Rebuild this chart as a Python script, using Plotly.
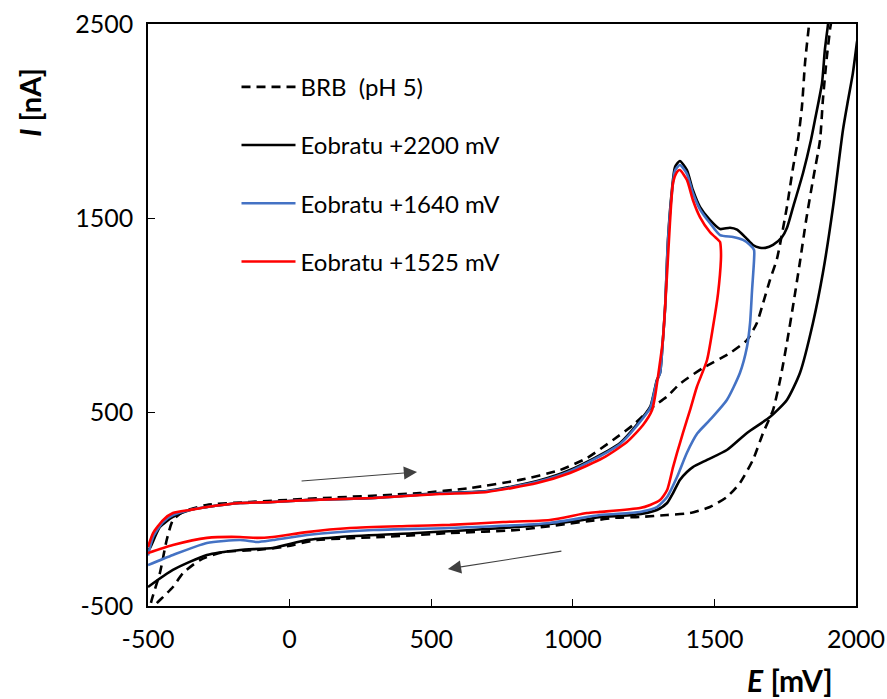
import plotly.graph_objects as go

# ---- data (E in mV, I in nA) ----
brb_fwd_E = [-500, -487, -458, -434, -412, -376, -293, -140, 61, 460, 637, 814, 955, 1050, 1142, 1213, 1273, 1333, 1378, 1460, 1555, 1615, 1650, 1672, 1696, 1721, 1756, 1778, 1795, 1809, 1820, 1834, 1845]
brb_fwd_I = [-560, -469, -330, -160, -57, -15, 21, 36, 52, 82, 108, 150, 201, 263, 356, 433, 515, 580, 645, 727, 804, 871, 959, 1062, 1180, 1290, 1557, 1763, 1902, 2072, 2299, 2495, 2650]
brb_rev_E = [1920, 1908, 1897, 1883, 1873, 1848, 1824, 1802, 1781, 1756, 1732, 1707, 1672, 1636, 1590, 1544, 1484, 1414, 1333, 1237, 1142, 1085, 803, 566, 330, 97, -23, -115, -235, -316, -376, -412, -447, -475, -495]
brb_rev_I = [2650, 2469, 2330, 2108, 1902, 1696, 1490, 1273, 1077, 856, 665, 510, 392, 253, 134, 62, 10, -21, -31, -41, -46, -57, -108, -124, -144, -160, -196, -211, -222, -263, -330, -402, -454, -495, -540]

k2200_fwd_E = [-500, -493, -458, -412, -352, -292, -175, -59, 61, 295, 531, 697, 874, 990, 1167, 1273, 1283, 1297, 1308, 1318, 1326, 1336, 1350, 1361, 1378, 1403, 1424, 1449, 1484, 1520, 1555, 1580, 1610, 1636, 1660, 1680, 1707, 1739, 1756, 1778, 1813, 1841, 1855, 1880, 1890, 1901, 1915]
k2200_fwd_I = [-211, -201, -93, -41, -5, 10, 31, 36, 46, 57, 82, 93, 144, 201, 340, 526, 577, 665, 701, 871, 1041, 1387, 1644, 1763, 1794, 1747, 1644, 1557, 1490, 1443, 1450, 1440, 1400, 1361, 1347, 1346, 1361, 1402, 1448, 1557, 1732, 1902, 2005, 2196, 2366, 2495, 2650]
k2200_rev_E = [2030, 2003, 1989, 1972, 1954, 1919, 1883, 1848, 1802, 1756, 1696, 1615, 1544, 1474, 1424, 1403, 1378, 1354, 1333, 1297, 1213, 1096, 1036, 803, 450, 178, 61, -59, -175, -292, -412, -500]
k2200_rev_I = [2700, 2402, 2247, 2108, 1954, 1557, 1216, 959, 701, 562, 474, 392, 304, 253, 216, 191, 150, 82, 31, -5, -31, -41, -57, -93, -124, -144, -160, -201, -211, -237, -314, -402]

b1640_fwd_E = [-500, -482, -447, -412, -352, -292, -175, -59, 61, 295, 531, 697, 874, 990, 1167, 1273, 1283, 1297, 1308, 1318, 1326, 1336, 1350, 1361, 1378, 1403, 1424, 1449, 1484, 1520, 1566, 1601, 1626, 1640]
b1640_fwd_I = [-240, -144, -67, -31, -5, 10, 31, 36, 46, 57, 80, 91, 140, 195, 335, 520, 572, 660, 700, 868, 1035, 1380, 1630, 1745, 1773, 1728, 1629, 1545, 1474, 1412, 1402, 1387, 1361, 1335]
b1640_rev_E = [1640, 1633, 1626, 1615, 1590, 1544, 1484, 1440, 1403, 1368, 1333, 1297, 1237, 1096, 919, 566, 295, 61, -59, -115, -175, -292, -412, -500]
b1640_rev_I = [1284, 1129, 959, 835, 701, 562, 459, 390, 290, 165, 62, 10, -15, -31, -72, -98, -108, -134, -160, -170, -160, -175, -237, -289]

r1525_fwd_E = [-500, -482, -447, -412, -352, -292, -175, -59, 61, 295, 531, 697, 874, 990, 1107, 1191, 1248, 1280, 1290, 1304, 1318, 1333, 1343, 1354, 1368, 1378, 1403, 1424, 1449, 1484, 1513, 1520]
r1525_fwd_I = [-196, -124, -57, -21, -5, 10, 31, 36, 46, 57, 77, 88, 134, 186, 263, 345, 433, 510, 577, 716, 871, 1216, 1474, 1680, 1737, 1747, 1696, 1593, 1505, 1428, 1387, 1376]
r1525_rev_E = [1523, 1523, 1513, 1495, 1474, 1438, 1414, 1389, 1368, 1354, 1333, 1308, 1273, 1237, 1096, 1050, 919, 754, 566, 415, 213, 61, -59, -115, -175, -292, -412, -500]
r1525_rev_I = [1335, 1284, 1113, 938, 768, 629, 510, 392, 289, 216, 98, 46, 21, 5, -15, -21, -57, -67, -82, -88, -98, -119, -144, -149, -144, -149, -186, -227]

x_ticks = [-500, 0, 500, 1000, 1500, 2000]
y_ticks = [-500, 500, 1500, 2500]

# scan direction arrows (tail -> head), mV / nA
arrow_fwd = dict(tail=(37, 144), head=(450, 191))
arrow_rev = dict(tail=(965, -216), head=(559, -309))

series = [
    ("BRB  (pH 5)", brb_fwd_E + brb_rev_E, brb_fwd_I + brb_rev_I, "black", "dash"),
    ("Eobratu +2200 mV", k2200_fwd_E + k2200_rev_E, k2200_fwd_I + k2200_rev_I, "black", "solid"),
    ("Eobratu +1640 mV", b1640_fwd_E + b1640_rev_E, b1640_fwd_I + b1640_rev_I, "#4472C4", "solid"),
    ("Eobratu +1525 mV", r1525_fwd_E + r1525_rev_E, r1525_fwd_I + r1525_rev_I, "#FF0000", "solid"),
]

FONT = "Lato"
fig = go.Figure()
for i, (name, E, I, color, dash) in enumerate(series):
    fig.add_trace(go.Scatter(
        x=E, y=I, mode="lines", name=name, legendgroup=f"g{i}",
        line=dict(color=color, width=2.6, dash="9px,6px" if dash == "dash" else "solid",
                  shape="spline", smoothing=0.6),
    ))

axis_common = dict(showline=True, linecolor="black", linewidth=1.6, mirror=True,
                   ticks="inside", ticklen=7, tickwidth=1.4, tickcolor="black",
                   showgrid=False, zeroline=False, automargin=False,
                   tickfont=dict(family=FONT, size=25, color="black"))

fig.update_xaxes(range=[-500, 2000], tickvals=x_ticks, ticktext=[str(v) for v in x_ticks],
                 ticklabelstandoff=10, **axis_common)
fig.update_yaxes(range=[-500, 2500], tickvals=y_ticks, ticktext=[str(v) for v in y_ticks],
                 ticklabelstandoff=8, **axis_common)

for a in (arrow_fwd, arrow_rev):
    fig.add_annotation(x=a["head"][0], y=a["head"][1], ax=a["tail"][0], ay=a["tail"][1],
                       xref="x", yref="y", axref="x", ayref="y", text="",
                       showarrow=True, arrowhead=2, arrowsize=2.4, arrowwidth=1.1,
                       arrowcolor="#404040")

fig.add_annotation(text="<b><i>E</i> [mV]</b>", xref="paper", yref="paper",
                   x=0.907, y=-0.127, xanchor="center", yanchor="middle", showarrow=False,
                   font=dict(family=FONT, size=30, color="black"))
fig.add_annotation(text="<b><i>I</i> [nA]</b>", xref="paper", yref="paper",
                   x=-0.167, y=0.866, xanchor="center", yanchor="middle",
                   showarrow=False, textangle=-90,
                   font=dict(family=FONT, size=29, color="black"))

fig.update_layout(
    width=887, height=699,
    margin=dict(l=148, r=31, t=24, b=93),
    paper_bgcolor="white", plot_bgcolor="white",
    showlegend=True,
    legend=dict(x=0.125, y=0.93, xanchor="left", yanchor="top",
                bgcolor="rgba(0,0,0,0)", font=dict(family=FONT, size=24, color="black"),
                tracegroupgap=24, itemwidth=54, traceorder="grouped"),
)

fig.write_html("out.html")
